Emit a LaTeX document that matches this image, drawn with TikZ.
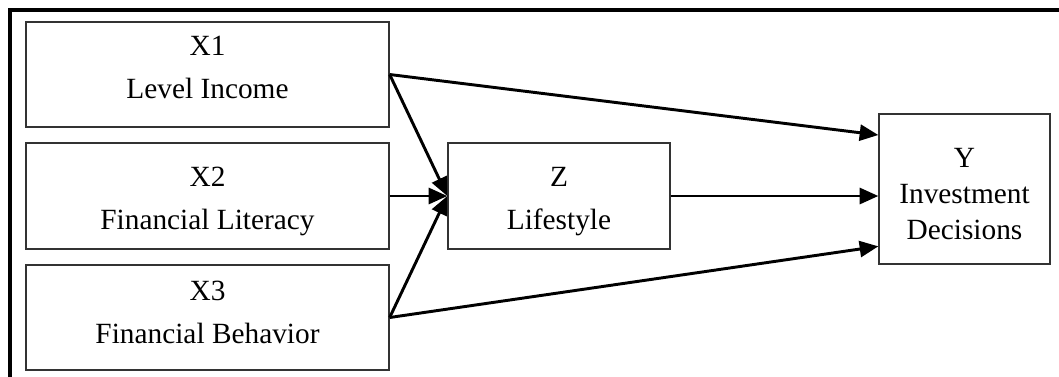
\documentclass[tikz,border=0pt]{standalone}
\usepackage{fontspec}
\setmainfont{Liberation Serif}
\usetikzlibrary{arrows.meta}
\begin{document}
\begin{tikzpicture}[x=0.75pt,y=-0.75pt,
  box/.style={draw=black!80, line width=1pt, inner sep=0pt},
  txt/.style={align=center, inner sep=0pt, font=\fontsize{22}{32.25}\selectfont},
  link/.style={line width=2.2pt, -{Triangle[length=14pt,width=12pt]}},
  frame/.style={line width=2.6pt}]
  \useasboundingbox (0,0) rectangle (1059,376);
  \begin{scope}
    \clip (0,0) rectangle (1059,376);
    \draw[frame] (10,380) -- (10,10) -- (1065,10);
  \end{scope}
  % independent variables
  \node[box, minimum width=363pt*0.75, minimum height=105pt*0.75] (x1) at (207.5,74.5) {};
  \node[box, minimum width=363pt*0.75, minimum height=106pt*0.75] (x2) at (207.5,196) {};
  \node[box, minimum width=363pt*0.75, minimum height=105pt*0.75] (x3) at (207.5,317.5) {};
  \node[txt] (x1t) at ([yshift=5pt]x1.center) {X1\\Level Income};
  \node[txt] (x2t) at ([yshift=-4pt]x2.center) {X2\\Financial Literacy};
  \node[txt] (x3t) at ([yshift=4pt]x3.center) {X3\\Financial Behavior};
  % mediator
  \node[box, minimum width=222pt*0.75, minimum height=106pt*0.75] (z) at (559,196) {};
  \node[txt] (zt) at ([yshift=-4pt]z.center) {Z\\Lifestyle};
  % dependent variable
  \node[box, minimum width=171pt*0.75, minimum height=150pt*0.75] (y) at (964.5,189) {};
  \node[txt, font=\fontsize{22}{27}\selectfont] (yt) at ([yshift=-3.5pt]y.center)
    {Y\\Investment\\Decisions};
  \coordinate (zin) at (z.west);
  \coordinate (yin1) at ([yshift=40.5pt]y.west);
  \coordinate (yin3) at ([yshift=-43pt]y.west);
  % paths
  \draw[link] (x1.east) -- (yin1);
  \draw[link] (x3.east) -- (yin3);
  \draw[link] (x1.east) -- (zin);
  \draw[link] (x3.east) -- (zin);
  \draw[link] (x2.east) -- (zin);
  \draw[link] (z.east) -- (z.east -| y.west);
\end{tikzpicture}
\end{document}
